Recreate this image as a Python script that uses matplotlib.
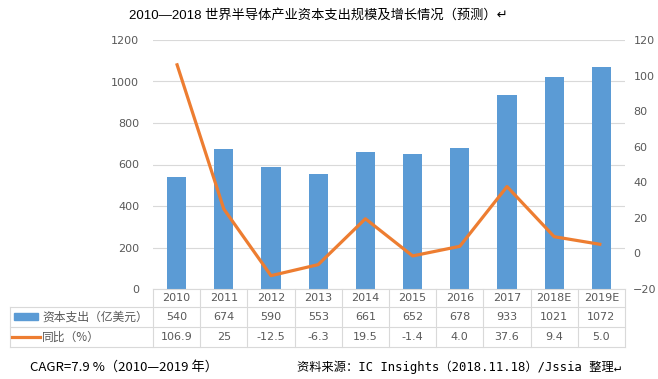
import matplotlib
matplotlib.use('Agg')
import matplotlib.pyplot as plt
from matplotlib.patches import Rectangle
from matplotlib.lines import Line2D

plt.rcParams['font.family'] = ['DejaVu Sans', 'Noto Sans CJK SC']

years = ['2010', '2011', '2012', '2013', '2014', '2015', '2016', '2017', '2018E', '2019E']
capex = [540, 674, 590, 553, 661, 652, 678, 933, 1021, 1072]
growth = [106.9, 25, -12.5, -6.3, 19.5, -1.4, 4.0, 37.6, 9.4, 5.0]
growth_labels = ['106.9', '25', '-12.5', '-6.3', '19.5', '-1.4', '4.0', '37.6', '9.4', '5.0']
bar_name = '资本支出（亿美元）'
line_name = '同比（%）'
title = '2010—2018 世界半导体产业资本支出规模及增长情况（预测）'
cagr_note = 'CAGR=7.9 %（2010—2019 年）'
source_note = '资料来源：IC Insights（2018.11.18）/Jssia 整理'

BLUE = '#5B9BD5'
ORANGE = '#ED7D31'
GRID = '#D9D9D9'
TXT = '#595959'
CJK = ['Noto Sans CJK SC', 'DejaVu Sans']

W, H = 658, 379
fig = plt.figure(figsize=(W / 100, H / 100), dpi=100)
L, R, B, T = 153, 625, 289, 40
ax = fig.add_axes([L / W, 1 - B / H, (R - L) / W, (B - T) / H])

n = len(years)
x = list(range(n))
ax.bar(x, capex, width=0.41, color=BLUE, zorder=2)
ax.set_xlim(-0.5, n - 0.5)
ax.set_ylim(0, 1200)
ax.set_yticks(range(0, 1201, 200))
ax.set_xticks([])
ax.grid(axis='y', color=GRID, lw=0.8, zorder=0)
for s in ['top', 'right', 'left']:
    ax.spines[s].set_visible(False)
ax.spines['bottom'].set_color(GRID)
ax.tick_params(axis='y', length=0, pad=10, labelsize=8, labelcolor=TXT)

ax2 = ax.twinx()
ax2.plot(x, growth, color=ORANGE, lw=2.3, solid_capstyle='butt', zorder=3)
ax2.set_ylim(-20, 120)
ax2.set_yticks(range(-20, 121, 20))
for s in ax2.spines.values():
    s.set_visible(False)
ax2.tick_params(axis='y', length=0, pad=6, labelsize=8, labelcolor=TXT)

# data table below the plot
def fx(px):
    return px / W

def fy(py):
    return 1 - py / H

colw = (R - L) / n
rows = [289, 307, 327, 347]
for yy in rows[1:]:
    fig.add_artist(Line2D([fx(10), fx(R)], [fy(yy), fy(yy)], color=GRID, lw=0.8))
fig.add_artist(Line2D([fx(10), fx(10)], [fy(307), fy(347)], color=GRID, lw=0.8))
for k in range(n + 1):
    xx = L + k * colw
    fig.add_artist(Line2D([fx(xx), fx(xx)], [fy(289), fy(347)], color=GRID, lw=0.8))

for k in range(n):
    cx = fx(L + (k + 0.5) * colw)
    fig.text(cx, fy(298), years[k], ha='center', va='center', fontsize=8, color=TXT)
    fig.text(cx, fy(317), str(capex[k]), ha='center', va='center', fontsize=8, color=TXT)
    fig.text(cx, fy(337), growth_labels[k], ha='center', va='center', fontsize=8, color=TXT)

fig.add_artist(Rectangle((fx(14), fy(320)), fx(24), 7 / H, color=BLUE))
fig.add_artist(Line2D([fx(12), fx(40)], [fy(337), fy(337)], color=ORANGE, lw=2.3))
fig.text(fx(42), fy(317), bar_name, ha='left', va='center', fontsize=8.5, color=TXT, family=CJK)
fig.text(fx(42), fy(337), line_name, ha='left', va='center', fontsize=8.5, color=TXT, family=CJK)

fig.text(fx(318), fy(15), title + '↵', ha='center', va='center', fontsize=9.5,
         color='black', family=['Liberation Sans', 'Noto Sans CJK SC', 'DejaVu Sans'])
fig.text(fx(30), fy(367), cagr_note, ha='left', va='center', fontsize=9.5,
         color='black', family=['Liberation Sans Narrow', 'Noto Sans CJK SC', 'DejaVu Sans'])
src = fig.text(fx(297), fy(367), source_note + '↵', ha='left', va='center', fontsize=8.8,
               color='black', family=['DejaVu Sans Mono', 'Noto Sans CJK SC', 'DejaVu Sans'])

fig.savefig('out.png', dpi=100)
